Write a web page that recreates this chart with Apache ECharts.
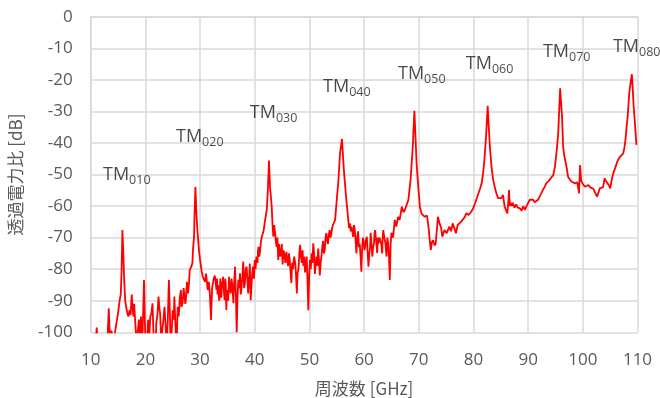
<!DOCTYPE html>
<html><head><meta charset="utf-8">
<script src="https://cdn.jsdelivr.net/npm/echarts@6/dist/echarts.min.js"></script>
<style>html,body{margin:0;padding:0;background:#fff}#c{width:660px;height:398px}</style>
</head><body><div id="c"></div>
<script>
const xTicks = [10,20,30,40,50,60,70,80,90,100,110];
const yTicks = [0,-10,-20,-30,-40,-50,-60,-70,-80,-90,-100];
const freq = [
10.5,10.9,11.1,11.3,11.6,12.0,12.4,12.8,13.1,13.3,13.5,13.8,14.1,14.4,14.7,15.0,15.3,15.5,15.65,15.8,
15.95,16.1,16.3,16.5,16.7,16.9,17.1,17.3,17.5,17.6,17.8,17.95,18.2,18.4,18.6,18.8,19.0,19.2,19.4,19.75,
19.95,20.2,20.5,20.7,20.9,21.1,21.3,21.5,21.8,22.0,22.2,22.4,22.6,22.7,22.9,23.1,23.3,23.5,23.7,23.9,
24.1,24.3,24.5,24.6,24.8,25.0,25.2,25.3,25.5,25.7,25.9,26.1,26.3,26.5,26.6,26.8,27.0,27.1,27.3,27.4,
27.6,27.8,28.0,28.1,28.4,28.6,28.7,28.9,29.0,29.15,29.35,29.55,29.8,30.0,30.3,30.5,30.7,30.9,31.1,31.4,
31.6,31.8,32.0,32.2,32.5,32.7,
33.0,33.1,33.2,33.3,33.4,33.5,33.6,33.7,33.8,33.9,34.0,34.1,34.2,34.35,34.5,34.6,34.7,34.8,34.9,35.0,
35.15,35.3,35.45,35.6,35.75,35.9,36.0,36.1,36.25,36.4,36.55,36.7,36.85,37.0,37.15,37.3,37.45,37.6,37.75,37.9,
38.05,38.2,38.35,38.5,38.65,38.8,38.9,39.0,39.1,39.25,39.4,39.55,39.7,39.85,40.0,40.15,40.3,40.5,40.6,40.7,
40.85,41.0,41.15,41.3,41.6,41.9,42.2,42.4,42.6,42.8,
43.1,43.25,43.4,43.55,43.7,43.85,44.0,44.15,44.3,44.4,44.5,44.65,44.8,44.95,45.1,45.25,45.4,45.6,45.8,45.95,
46.1,46.25,46.4,46.55,46.7,46.85,47.0,47.2,47.4,47.55,47.7,47.85,48.0,48.15,48.3,48.45,48.6,48.75,48.9,49.05,
49.2,49.35,49.5,49.65,49.8,49.95,50.1,50.25,50.4,50.55,50.7,50.85,51.0,51.15,51.3,51.45,51.6,51.75,51.9,52.05,
52.2,52.35,52.5,52.65,52.8,52.95,53.1,53.25,53.4,53.55,53.7,53.85,54.0,54.15,54.3,54.5,54.7,
55.0,55.3,55.6,55.95,56.3,56.7,
57.1,57.25,57.4,57.55,57.7,57.85,58.0,58.15,58.3,58.45,58.6,58.75,58.9,59.05,59.2,59.35,59.5,59.65,59.8,59.95,
60.1,60.3,60.5,60.65,60.8,60.95,61.1,61.2,61.35,61.5,61.65,61.8,61.9,62.0,62.2,62.4,62.5,62.6,62.8,63.0,
63.15,63.3,63.4,63.5,63.7,63.9,64.0,64.1,64.25,64.4,64.55,64.7,64.85,65.0,
65.3,65.6,65.9,66.2,66.5,66.9,67.2,67.5,67.8,68.1,68.5,68.9,69.2,69.6,69.9,70.2,70.5,70.8,
71.1,71.5,71.8,72.0,72.2,72.4,72.6,72.9,73.1,73.5,73.8,74.1,74.3,74.7,75.1,75.6,75.9,76.2,76.5,76.8,
77.1,77.4,77.7,78.0,78.4,78.7,79.1,79.6,80.0,80.3,80.6,80.9,81.2,81.5,81.8,82.0,82.3,82.6,82.8,83.0,
83.3,83.6,83.9,84.2,84.5,84.8,85.1,85.4,85.7,86.0,86.2,86.4,86.5,86.65,86.8,87.0,87.2,87.5,87.8,88.1,
88.5,88.8,89.1,89.4,89.7,90.0,90.3,90.6,90.9,91.2,91.5,91.8,92.1,92.4,92.7,93.0,93.3,93.6,93.9,94.2,
94.6,94.9,95.1,95.3,95.5,95.85,96.2,96.4,96.6,96.9,97.1,97.3,97.6,97.9,98.2,98.5,98.8,99.0,99.3,99.5,
99.7,100.0,100.4,100.7,101.0,101.3,101.6,101.9,102.2,102.6,102.9,103.1,103.4,103.7,104.0,104.2,104.5,104.8,105.0,105.2,
105.4,105.7,106.0,106.4,106.8,107.1,107.4,107.6,107.8,108.0,108.2,108.5,108.96,109.1,109.3,109.5,109.8
];
const power = [
-108,-103,-98.5,-104,-110,-106,-112,-104,-101,-92.4,-101,-99.5,-103,-100.5,-97.2,-94,-89.8,-88,-80,-67.6,
-74,-82.4,-89.8,-92,-94,-95,-93,-94.5,-88,-90.8,-95,-91,-98.2,-104,-100,-96,-101,-95,-106,-83.4,
-100,-107,-96,-102,-95,-94,-90.8,-101,-108,-97,-94.5,-88.7,-93,-94,-103,-99,-96,-91.9,-98,-104,
-96,-83.4,-95,-104,-100,-93,-96,-88.7,-98,-105,-91.9,-95,-89,-86.6,-92,-90.8,-86,-85.5,-91,-89.8,
-84,-87.7,-84,-80.3,-79.2,-78,-74,-69.7,-62,-54,-63,-68.6,-74,-77,-80.7,-82.4,-82,-84,-81.4,-86.6,
-84,-88,-96.1,-86,-83,-82,
-86.6,-83,-88,-85,-84.5,-90,-88.7,-83,-86,-89,-84,-86,-82.4,-87,-89.8,-83,-84.5,-92.9,-88,-86.6,
-90,-82.4,-86,-87.7,-83,-85,-88,-90.8,-84,-79.2,-88,-100,-89,-83.4,-86,-81.3,-88,-85.5,-82,-77.6,
-86,-84.5,-80,-79.2,-83,-87.7,-84,-82,-78.2,-89.8,-85.5,-81,-79.2,-83,-77.1,-80,-76,-78,-74,-72.9,
-76,-73.9,-71,-69.7,-68,-64.4,-61.2,-55,-45.6,-54,
-60,-66,-69.7,-66,-68,-71,-72.9,-70,-77.1,-72,-73,-76,-75,-72,-78.5,-74,-75,-78,-74.5,-77,
-79,-75,-77,-81,-84.4,-78,-80,-76,-78,-82,-87.7,-81,-80,-75,-72.3,-76,-78,-74,-79,-76,
-81,-78,-76,-84,-93,-82,-77,-80,-75,-78,-71.8,-75,-81.5,-78,-76,-79,-73.5,-77,-82,-78,
-76,-73,-71,-75,-74,-70,-68.6,-71,-72,-69,-67.6,-70,-69,-67,-66,-66.5,-64.4,
-58,-52,-43.2,-38.7,-48.6,-57,
-64.4,-67,-65.5,-68,-66.5,-68,-69.8,-66,-67.5,-71,-75,-70,-68,-73,-72,-76,-80.8,-73,-70,-72,
-74,-71,-69.7,-75,-79.2,-75,-73,-68.5,-72,-76,-73,-71.8,-69,-67.6,-71,-74.9,-70,-72,-70,-69.7,
-72,-75,-70,-67.6,-70,-71.8,-74,-76,-70,-72,-76,-83.4,-72,-68.5,
-70,-64.4,-66.5,-63.4,-64.4,-60.2,-62,-61,-59.5,-58,-51.7,-41.2,-29.8,-46.5,-53.9,-60.2,-62.4,-61.8,
-63.4,-63,-67,-70.8,-73.9,-71.5,-70.8,-72.5,-71.8,-63.4,-65.5,-67,-69.7,-67.6,-68.6,-66.5,-68,-65.5,-67,-68.6,
-66,-66.5,-65,-64.4,-63.5,-62.3,-62.8,-61.8,-60.5,-59.1,-57.5,-56,-54.5,-52.8,-49,-45.4,-38,-28.2,-35,-41.2,
-47.5,-51.7,-54,-56,-57.5,-57,-57.5,-56.5,-60.2,-61.5,-62.3,-58,-54.9,-60,-59,-60,-59,-60.5,-59.5,-60.5,
-60.7,-61.5,-60,-61.2,-61,-59,-58,-58.5,-58,-58.8,-59,-58,-57,-56,-54.9,-54,-52.8,-52.5,-51.8,-51,
-50.2,-47.5,-44.4,-41,-36.9,-22.7,-31.7,-41.2,-44,-46.5,-48.5,-50.7,-51.5,-52.2,-52,-52.8,-53,-52.5,-56,-47,
-52,-53,-53.9,-53.5,-53.3,-54,-54,-54.5,-55,-57,-55.5,-54.4,-54.2,-54,-51.2,-52,-52.3,-53.5,-54.4,-52.5,
-50.7,-49,-47.5,-45.5,-44.4,-44,-43.3,-41.5,-39,-35,-31.7,-24,-18.2,-22,-28.5,-33,-40.6
];
const modeNames = ['010','020','030','040','050','060','070','080'];
const modeLabelX = [12.25,25.6,39.1,52.5,66.2,78.6,92.7,105.5];
const modeLabelY = [-50.2,-38.1,-30.5,-22.3,-18.2,-15.0,-11.2,-9.6];

const chart = echarts.init(document.getElementById('c'), null, {renderer:'canvas'});
const lineData = freq.map((f,i)=>[f, power[i]]);
const labelData = modeNames.map((n,i)=>({value:[modeLabelX[i], modeLabelY[i]], name:n}));
const numFont = "'Open Sans', 'Noto Sans CJK JP', sans-serif";
chart.setOption({
  animation:false,
  backgroundColor:'#fff',
  grid:{left:90.7, right:22.5, top:16.7, bottom:65.7, containLabel:false, outerBoundsMode:'none'},
  xAxis:{type:'value', min:xTicks[0], max:xTicks[xTicks.length-1], interval:10,
    name:'周波数 [GHz]', nameLocation:'middle', nameGap:48,
    nameTextStyle:{color:'#595959', fontSize:17, fontFamily:"'Noto Sans CJK JP', sans-serif"},
    axisLine:{show:true, lineStyle:{color:'#d9d9d9', width:1.5}}, axisTick:{show:false},
    axisLabel:{color:'#595959', fontSize:17, margin:19, fontFamily:numFont},
    splitLine:{show:true, lineStyle:{color:'#d9d9d9', width:1.5}}},
  yAxis:{type:'value', min:yTicks[yTicks.length-1], max:yTicks[0], interval:10,
    name:'透過電力比 [dB]', nameLocation:'middle', nameGap:67, nameRotate:90,
    nameTextStyle:{color:'#595959', fontSize:17, fontFamily:"'Noto Sans CJK JP', sans-serif"},
    axisLine:{show:true, lineStyle:{color:'#d9d9d9', width:1.5}}, axisTick:{show:false},
    axisLabel:{color:'#595959', fontSize:17, margin:18, fontFamily:numFont},
    splitLine:{show:true, lineStyle:{color:'#d9d9d9', width:1.5}}},
  series:[
    {type:'line', data:lineData, showSymbol:false, clip:true, lineStyle:{color:'#ff0000', width:1.8}, silent:true},
    {type:'scatter', data:labelData, symbolSize:0, silent:true, clip:false,
      label:{show:true, position:'right', distance:0,
        formatter:p=>'{m|TM}{s|'+p.name+'}',
        rich:{m:{fontSize:18, color:'#1a1a1a', fontFamily:numFont},
              s:{fontSize:12.5, color:'#1a1a1a', fontFamily:numFont, padding:[10,0,0,0]}}}}
  ]
});
</script></body></html>
